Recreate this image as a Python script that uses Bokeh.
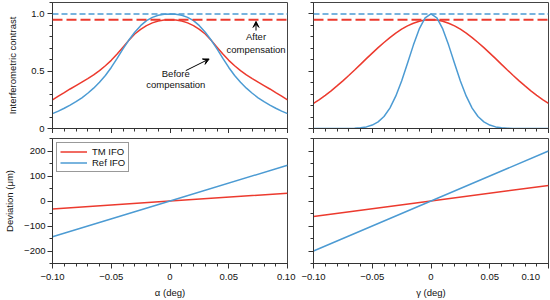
from bokeh.plotting import figure
from bokeh.layouts import gridplot
from bokeh.models import (FixedTicker, Span, Arrow, VeeHead, Label, Legend,
                          LegendItem, Range1d)
from bokeh.embed import file_html
from bokeh.resources import INLINE

# ---------------- data ----------------
angle = [-0.1, -0.095, -0.09, -0.085, -0.08, -0.075, -0.07, -0.065, -0.06, -0.055,
         -0.05, -0.045, -0.04, -0.035, -0.03, -0.025, -0.02, -0.015, -0.01, -0.005,
         0.0, 0.005, 0.01, 0.015, 0.02, 0.025, 0.03, 0.035, 0.04, 0.045,
         0.05, 0.055, 0.06, 0.065, 0.07, 0.075, 0.08, 0.085, 0.09, 0.095, 0.1]

contrast_alpha_tm = [0.25, 0.282, 0.313, 0.345, 0.375, 0.405, 0.435, 0.468, 0.505, 0.548,
                     0.595, 0.65, 0.71, 0.77, 0.825, 0.866, 0.898, 0.922, 0.938, 0.947,
                     0.95, 0.947, 0.938, 0.922, 0.898, 0.866, 0.825, 0.77, 0.71, 0.65,
                     0.595, 0.548, 0.505, 0.468, 0.435, 0.405, 0.375, 0.345, 0.313, 0.282, 0.25]
contrast_alpha_ref = [0.13, 0.152, 0.177, 0.204, 0.234, 0.268, 0.308, 0.352, 0.403, 0.463,
                      0.533, 0.612, 0.695, 0.772, 0.84, 0.898, 0.942, 0.97, 0.988, 0.997,
                      1.0, 0.997, 0.988, 0.97, 0.942, 0.898, 0.84, 0.772, 0.695, 0.612,
                      0.533, 0.463, 0.403, 0.352, 0.308, 0.268, 0.234, 0.204, 0.177, 0.152, 0.13]
contrast_gamma_tm = [0.219, 0.253, 0.29, 0.329, 0.372, 0.416, 0.463, 0.511, 0.56, 0.61,
                     0.658, 0.706, 0.751, 0.794, 0.833, 0.867, 0.896, 0.919, 0.936, 0.947,
                     0.95, 0.947, 0.936, 0.919, 0.896, 0.867, 0.833, 0.794, 0.751, 0.706,
                     0.658, 0.61, 0.56, 0.511, 0.463, 0.416, 0.372, 0.329, 0.29, 0.253, 0.219]
contrast_gamma_ref = [0.0, 0.0, 0.0, 0.0, 0.0, 0.0, 0.001, 0.003, 0.006, 0.014,
                      0.03, 0.058, 0.105, 0.178, 0.282, 0.415, 0.569, 0.728, 0.869, 0.965,
                      1.0, 0.965, 0.869, 0.728, 0.569, 0.415, 0.282, 0.178, 0.105, 0.058,
                      0.03, 0.014, 0.006, 0.003, 0.001, 0.0, 0.0, 0.0, 0.0, 0.0, 0.0]

after_tm = 0.95
after_ref = 1.0

dev_angle = [-0.1, 0.0, 0.1]
dev_alpha_tm = [-32, 0, 31]
dev_alpha_ref = [-143, 0, 143]
dev_gamma_tm = [-62, 0, 62]
dev_gamma_ref = [-200, 0, 200]

x_ticks = [-0.1, -0.05, 0.0, 0.05, 0.1]
x_tick_labels = ["\u22120.10", "\u22120.05", "0", "0.05", "0.10"]
x_minor = [round(-0.1 + 0.01 * i, 2) for i in range(21)]
c_ticks = [0.0, 0.5, 1.0]
c_tick_labels = ["0", "0.5", "1.0"]
c_minor = [round(0.1 * i, 1) for i in range(12)]
d_ticks = [-200, -100, 0, 100, 200]
d_tick_labels = ["\u2212200", "\u2212100", "0", "100", "200"]
d_minor = [-250 + 50 * i for i in range(11)]

series_labels = ["TM IFO", "Ref IFO"]
x_titles = ["\u03b1 (deg)", "\u03b3 (deg)"]
y_titles = ["Interferometric contrast", "Deviation (\u03bcm)"]

# ---------------- style ----------------
RED = "#ec3a2e"
BLUE = "#4c9bd3"
FONT = "Liberation Sans"
AX = "#333333"
FS = "9.5px"
NBSP = "\u00a0"
# last x tick label is nudged inward (as in the reference), via trailing no-break spaces
LAST_LABEL_PAD = [1, 4]

FIG_W = [300, 250]
FIG_H = [133, 167]
BORDER_L = [52, 13]
BORDER_R = [13, 2]
BORDER_T = [2, 5]
BORDER_B = [5, 36]


def hide_labels(ax):
    ax.major_label_text_color = None
    ax.major_label_text_font_size = "1px"
    ax.major_label_standoff = 0


def make_fig(col, row):
    yr = Range1d(0, 1.1) if row == 0 else Range1d(-250, 250)
    p = figure(width=FIG_W[col], height=FIG_H[row], x_range=Range1d(-0.1, 0.1),
               y_range=yr, output_backend="svg", toolbar_location=None, tools="")
    p.min_border_left = BORDER_L[col]
    p.min_border_right = BORDER_R[col]
    p.min_border_top = BORDER_T[row]
    p.min_border_bottom = BORDER_B[row]
    p.grid.visible = False
    p.outline_line_color = "#444444"
    p.outline_line_width = 1
    p.background_fill_color = "white"
    p.border_fill_color = "white"

    for ax in (p.xaxis[0], p.yaxis[0]):
        ax.axis_line_color = AX
        ax.major_tick_line_color = AX
        ax.minor_tick_line_color = AX
        ax.major_tick_out = 5
        ax.major_tick_in = 0
        ax.minor_tick_out = 3
        ax.minor_tick_in = 0
        ax.major_label_text_font = FONT
        ax.major_label_text_font_size = FS
        ax.major_label_text_color = "#111111"
        ax.axis_label_text_font = FONT
        ax.axis_label_text_font_size = FS
        ax.axis_label_text_font_style = "normal"
        ax.axis_label_text_color = "#111111"

    xa = p.xaxis[0]
    xa.ticker = FixedTicker(ticks=x_ticks, minor_ticks=x_minor)
    labels = list(x_tick_labels)
    labels[-1] = labels[-1] + NBSP * LAST_LABEL_PAD[col]
    xa.major_label_overrides = dict(zip(x_ticks, labels))
    if row == 0:
        hide_labels(xa)
    else:
        xa.major_label_standoff = 2
        xa.axis_label = x_titles[col]
        xa.axis_label_standoff = 2

    ya = p.yaxis[0]
    if row == 0:
        ya.ticker = FixedTicker(ticks=c_ticks, minor_ticks=c_minor)
        ya.major_label_overrides = dict(zip(c_ticks, c_tick_labels))
    else:
        ya.ticker = FixedTicker(ticks=d_ticks, minor_ticks=d_minor)
        ya.major_label_overrides = dict(zip(d_ticks, d_tick_labels))
    if col == 0:
        ya.axis_label = y_titles[row]
        ya.major_label_standoff = 3 if row == 0 else 2
        ya.axis_label_standoff = 10 if row == 0 else 6
    else:
        hide_labels(ya)
    return p


p1 = make_fig(0, 0)
p2 = make_fig(1, 0)
p3 = make_fig(0, 1)
p4 = make_fig(1, 1)

# top panels
for p, tm, ref in ((p1, contrast_alpha_tm, contrast_alpha_ref),
                   (p2, contrast_gamma_tm, contrast_gamma_ref)):
    p.add_layout(Span(location=after_ref, dimension="width", line_color=BLUE,
                      line_width=1.5, line_dash="6 3"))
    p.add_layout(Span(location=after_tm, dimension="width", line_color=RED,
                      line_width=2, line_dash="10 4"))
    p.line(angle, tm, line_color=RED, line_width=1.5)
    p.line(angle, ref, line_color=BLUE, line_width=1.5)

# annotations on top-left
ann = dict(text_font=FONT, text_font_size=FS, text_align="center",
           text_baseline="middle", text_color="#111111")
p1.add_layout(Label(x=0.0732, y=0.805, text="After", **ann))
p1.add_layout(Label(x=0.0732, y=0.689, text="compensation", **ann))
p1.add_layout(Label(x=0.0049, y=0.476, text="Before", **ann))
p1.add_layout(Label(x=0.0049, y=0.382, text="compensation", **ann))
p1.add_layout(Arrow(end=VeeHead(size=6, fill_color="black", line_color="black"),
                    x_start=0.0732, y_start=0.855, x_end=0.0732, y_end=0.935,
                    line_color="black", line_width=1))
p1.add_layout(Arrow(end=VeeHead(size=6, fill_color="black", line_color="black"),
                    x_start=0.0134, y_start=0.505, x_end=0.0333, y_end=0.607,
                    line_color="black", line_width=1))

# bottom panels
r_tm = p3.line(dev_angle, dev_alpha_tm, line_color=RED, line_width=1.5)
r_ref = p3.line(dev_angle, dev_alpha_ref, line_color=BLUE, line_width=1.5)
p4.line(dev_angle, dev_gamma_tm, line_color=RED, line_width=1.5)
p4.line(dev_angle, dev_gamma_ref, line_color=BLUE, line_width=1.5)

legend = Legend(items=[LegendItem(label=series_labels[0], renderers=[r_tm]),
                       LegendItem(label=series_labels[1], renderers=[r_ref])],
                location="top_left", margin=4, padding=3, spacing=0,
                glyph_width=27, glyph_height=11, label_height=11, label_standoff=5,
                border_line_color=AX, border_line_width=1,
                label_text_font=FONT, label_text_font_size=FS,
                label_text_color="#111111", background_fill_alpha=1)
p3.add_layout(legend)

grid = gridplot([[p1, p2], [p3, p4]], toolbar_location=None)

open("out.html", "w").write(file_html(grid, INLINE))
